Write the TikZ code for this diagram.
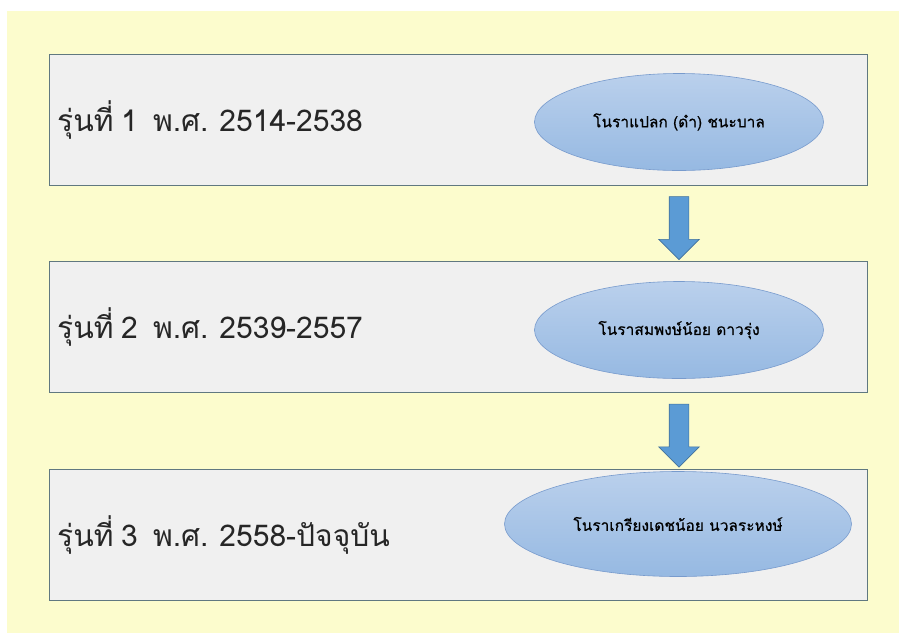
\documentclass[tikz,border=0pt]{standalone}
\usepackage{fontspec}
\newfontfamily\thaifont[Script=Thai, WordSpace=0.75]{Loma}
\newfontfamily\thainame[Script=Thai, FakeBold=0.6]{Loma}
\usetikzlibrary{positioning,calc,shapes.geometric,shapes.arrows}
\tikzset{font=\thaifont}

\definecolor{pageyellow}{RGB}{252,252,205}
\definecolor{boxgray}{RGB}{240,240,240}
\definecolor{boxline}{RGB}{96,120,128}
\definecolor{elltop}{RGB}{186,208,236}
\definecolor{ellbot}{RGB}{150,185,226}
\definecolor{ellline}{RGB}{120,155,205}
\definecolor{arrblue}{RGB}{91,155,213}
\definecolor{arrline}{RGB}{65,113,156}

\tikzset{
	genbox/.style={rectangle, draw=boxline, fill=boxgray, line width=1pt,
		minimum width=818pt, minimum height=131pt},
	genlabel/.style={anchor=west, text=black!85,
		font=\thaifont\fontsize{30}{34}\selectfont},
	noraell/.style={ellipse, draw=ellline, line width=0.6pt,
		top color=elltop, bottom color=ellbot,
		minimum width=289pt, minimum height=97pt,
		font=\thainame\fontsize{15.5}{18}\selectfont},
	downarrow/.style={single arrow, rotate=-90, draw=arrline, fill=arrblue,
		line width=0.6pt, inner xsep=0pt, inner ysep=9.5pt,
		single arrow head extend=10.5pt, minimum height=63pt}
}

\begin{document}
\begin{tikzpicture}[x=1pt,y=-1pt]
	\fill[white] (0,0) rectangle (899,633);
	\fill[pageyellow] (7,11) rectangle (899,633);
	\begin{scope}
		\tikzstyle{every node}=[inner sep=0pt]
		% generation boxes
		\node[genbox] (box1) at (458, 119.5) {};
		\node[genbox] (box2) at (458, 327) {};
		\node[genbox] (box3) at (458, 534.5) {};

		\node[genlabel] (gen1) at (57, 119.5) {รุ่นที่ 1\ \ พ.ศ. 2514-2538};
		\node[genlabel] (gen2) at (57, 327) {รุ่นที่ 2\ \ พ.ศ. 2539-2557};
		\node[genlabel] (gen3) at (57, 534.5) {รุ่นที่ 3\ \ พ.ศ. 2558-ปัจจุบัน};

		% masters
		\node[noraell] (nora1) at (679, 122) {โนราแปลก (ดำ) ชนะบาล};
		\node[noraell] (nora2) at (679, 330) {โนราสมพงษ์น้อย ดาวรุ่ง};
		\node[noraell, minimum width=347pt, minimum height=105pt] (nora3) at (678, 524) {โนราเกรียงเดชน้อย นวลระหงษ์};

		\node[downarrow] (arr1) at ($(nora1 |- box1.south)!0.5!(nora1 |- box2.north)$) {};
		\node[downarrow] (arr2) at ($(nora2 |- box2.south)!0.5!(nora2 |- box3.north)$) {};
	\end{scope}
\end{tikzpicture}
\end{document}
